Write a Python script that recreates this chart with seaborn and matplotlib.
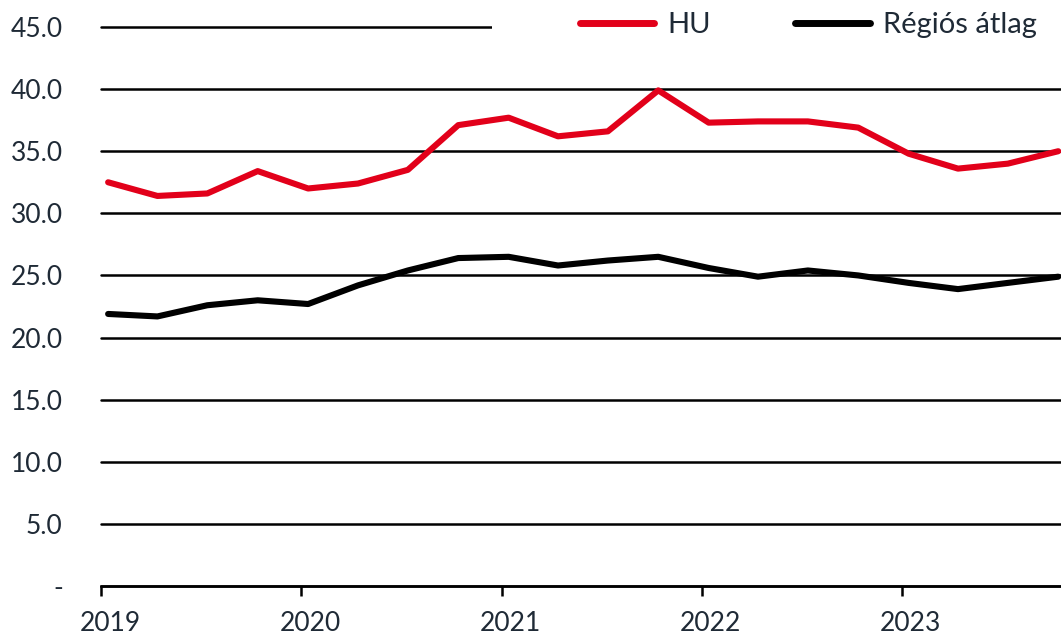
import numpy as np
import pandas as pd
import seaborn as sns
import matplotlib.pyplot as plt
import matplotlib.dates as mdates
import matplotlib.ticker as ticker
from matplotlib.transforms import ScaledTranslation
from matplotlib.patches import Rectangle

# Data (quarterly, 2019Q1 - 2023Q4)
quarters = pd.date_range("2019-01-01", periods=20, freq="QS") + pd.Timedelta(days=13)
hu = [32.5, 31.4, 31.6, 33.4, 32.0, 32.4, 33.5, 37.1, 37.7, 36.2,
      36.6, 39.9, 37.3, 37.4, 37.4, 36.9, 34.8, 33.6, 34.0, 35.0]
regio = [21.9, 21.7, 22.6, 23.0, 22.7, 24.2, 25.4, 26.4, 26.5, 25.8,
         26.2, 26.5, 25.6, 24.9, 25.4, 25.0, 24.4, 23.9, 24.4, 24.9]
series_names = ["HU", "Régiós átlag"]
y_ticks = [0, 5, 10, 15, 20, 25, 30, 35, 40, 45]
y_ticklabels = ["-", "5.0", "10.0", "15.0", "20.0", "25.0", "30.0", "35.0", "40.0", "45.0"]

df = pd.DataFrame({
    "date": list(quarters) * 2,
    "value": hu + regio,
    "series": [series_names[0]] * 20 + [series_names[1]] * 20,
})

sns.set_style("white")
plt.rcParams["font.family"] = ["Lato", "DejaVu Sans"]
txt_color = "#1f2a36"
fs = 19

fig = plt.figure(figsize=(10.61, 6.39), dpi=100)
ax = fig.add_axes([101 / 1061, 53 / 639, 960 / 1061, 559 / 639])

sns.lineplot(data=df, x="date", y="value", hue="series",
             palette={"HU": "#e2001a", "Régiós átlag": "black"},
             lw=4.4, ax=ax, zorder=5, legend=False)

ax.set_ylim(0, 45)
ax.set_xlim(pd.Timestamp("2019-01-01"), pd.Timestamp("2023-10-19"))
ax.set_yticks(y_ticks)
ax.set_yticklabels(y_ticklabels)
ax.yaxis.grid(True, color="black", lw=1.8)
for gl in ax.get_ygridlines():
    gl.set_clip_on(False)
ax.set_axisbelow(True)

ax.xaxis.set_major_locator(mdates.YearLocator())
ax.xaxis.set_major_formatter(mdates.DateFormatter("%Y"))
ax.set_xlabel("")
ax.set_ylabel("")

for s in ["top", "right", "left"]:
    ax.spines[s].set_visible(False)
ax.spines["bottom"].set_color("black")
ax.spines["bottom"].set_linewidth(1.8)

ax.tick_params(axis="x", which="major", bottom=True, length=7, width=1.8,
               color="black", labelsize=fs, labelcolor=txt_color, pad=11)
ax.tick_params(axis="y", left=False, labelsize=fs, labelcolor=txt_color, pad=24)

for lab in ax.get_xticklabels():
    lab.set_transform(lab.get_transform() + ScaledTranslation(9 / 100, 0, fig.dpi_scale_trans))

# white box behind the legend hides part of the top gridline
ax.add_patch(Rectangle(((492 - 101) / 960, 0.93), 1.0, 0.2, transform=ax.transAxes,
                       facecolor="white", edgecolor="none", zorder=2, clip_on=False))

handles = [plt.Line2D([], [], color="#e2001a", lw=5),
           plt.Line2D([], [], color="black", lw=5)]
leg = fig.legend(handles, series_names, loc="center right", bbox_to_anchor=(0.988, 1 - 25 / 639),
                 ncol=2, frameon=False, fontsize=21, handlelength=2.55, handletextpad=0.45,
                 columnspacing=2.9, borderaxespad=0.0)
for t in leg.get_texts():
    t.set_color(txt_color)

plt.savefig("out.png", dpi=100)
